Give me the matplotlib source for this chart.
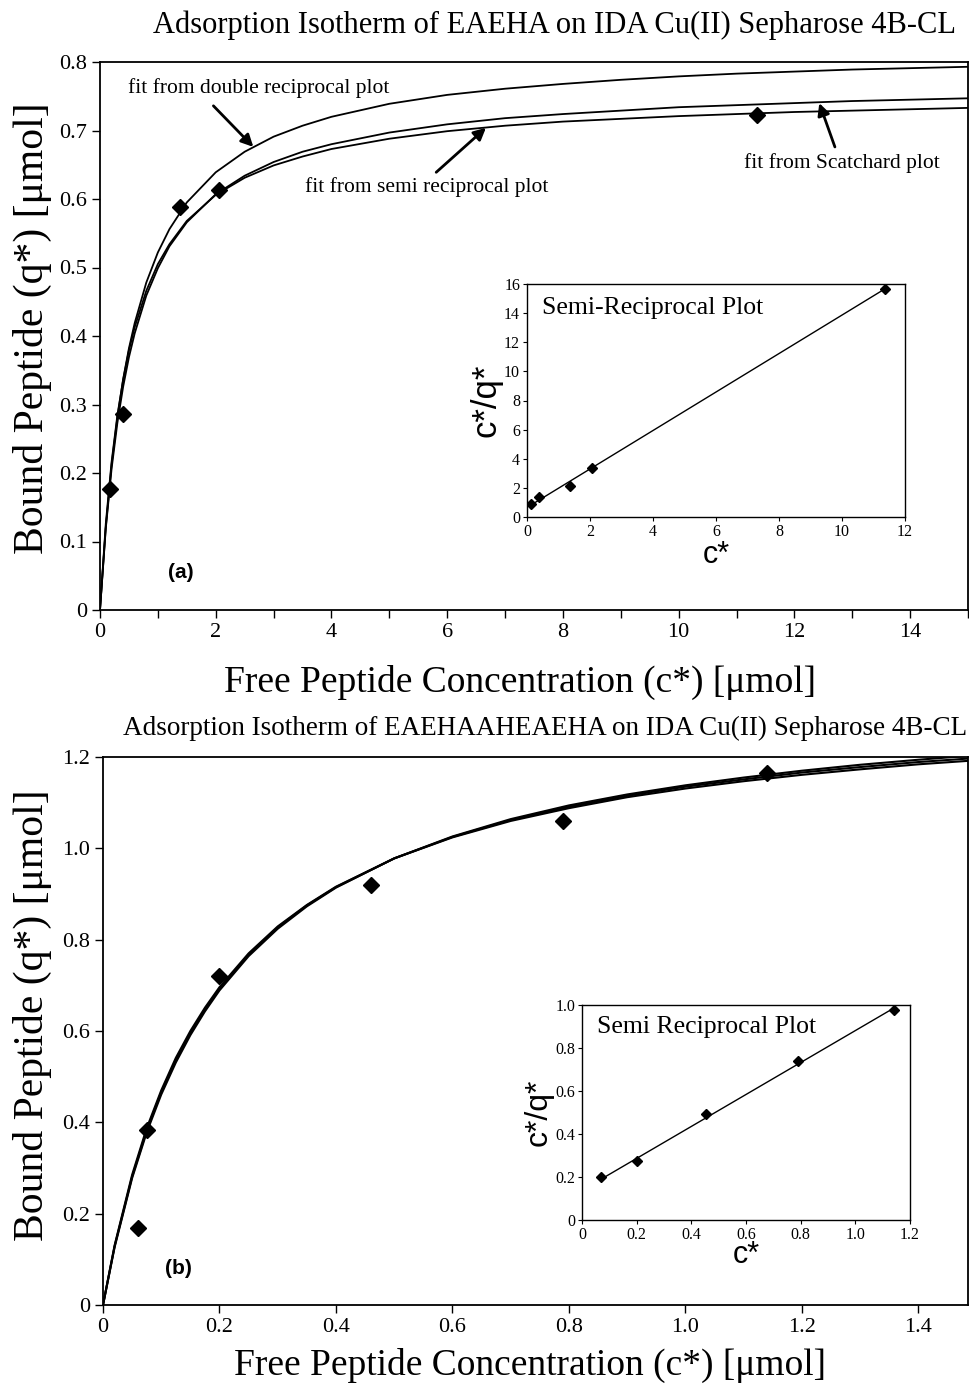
import matplotlib
matplotlib.use('Agg')
import matplotlib.pyplot as plt
from matplotlib.ticker import FixedLocator

plt.rcParams['font.family'] = 'Liberation Serif'

# ---- panel (a): EAEHA ----
a_c = [0.17, 0.40, 1.38, 2.06, 11.35]
a_q = [0.177, 0.286, 0.588, 0.613, 0.723]

# fitted isotherms
a_fit_c = [0, 0.1, 0.2, 0.3, 0.4, 0.5, 0.6, 0.8, 1.0, 1.2, 1.5, 2, 2.5, 3, 3.5, 4,
           5, 6, 7, 8, 9, 10, 11, 12, 13, 14, 15]
a_fit_double = [0, 0.121, 0.212, 0.281, 0.337, 0.382, 0.419, 0.478, 0.522, 0.556, 0.595,
                0.639, 0.669, 0.691, 0.707, 0.720, 0.739, 0.752, 0.761, 0.768, 0.774,
                0.779, 0.783, 0.786, 0.789, 0.791, 0.793]
a_fit_scatchard = [0, 0.119, 0.206, 0.273, 0.326, 0.369, 0.404, 0.459, 0.499, 0.531, 0.566,
                   0.607, 0.634, 0.654, 0.669, 0.680, 0.697, 0.709, 0.718, 0.724, 0.729,
                   0.734, 0.737, 0.740, 0.743, 0.745, 0.747]
a_fit_semi = [0, 0.126, 0.216, 0.284, 0.336, 0.379, 0.413, 0.466, 0.505, 0.534, 0.568,
              0.606, 0.631, 0.649, 0.662, 0.673, 0.688, 0.699, 0.707, 0.713, 0.717,
              0.721, 0.724, 0.727, 0.729, 0.731, 0.733]

a_inset_c = [0.14, 0.38, 1.35, 2.05, 11.35]
a_inset_cq = [0.89, 1.35, 2.10, 3.34, 15.66]
a_inset_line_c = [0.14, 11.35]
a_inset_line_cq = [0.84, 15.65]

# ---- panel (b): EAEHAAHEAEHA ----
b_c = [0.060, 0.076, 0.20, 0.46, 0.79, 1.14]
b_q = [0.168, 0.383, 0.72, 0.92, 1.06, 1.165]

b_fit_c = [0, 0.02, 0.05, 0.075, 0.1, 0.125, 0.15, 0.175, 0.2, 0.25, 0.3, 0.35, 0.4, 0.5,
           0.6, 0.7, 0.8, 0.9, 1.0, 1.1, 1.2, 1.3, 1.4, 1.49]
b_fit_1 = [0, 0.129, 0.281, 0.382, 0.466, 0.536, 0.596, 0.647, 0.692, 0.767, 0.827, 0.875,
           0.915, 0.978, 1.025, 1.062, 1.091, 1.115, 1.135, 1.151, 1.166, 1.178, 1.189, 1.197]
b_fit_2 = [0, 0.131, 0.285, 0.387, 0.470, 0.541, 0.600, 0.651, 0.696, 0.770, 0.829, 0.876,
           0.916, 0.978, 1.024, 1.060, 1.088, 1.112, 1.131, 1.147, 1.161, 1.173, 1.184, 1.192]
b_fit_3 = [0, 0.127, 0.278, 0.378, 0.461, 0.531, 0.591, 0.643, 0.689, 0.764, 0.824, 0.873,
           0.914, 0.978, 1.026, 1.064, 1.094, 1.118, 1.138, 1.155, 1.170, 1.183, 1.194, 1.203]

b_inset_c = [0.07, 0.20, 0.455, 0.79, 1.14]
b_inset_cq = [0.20, 0.275, 0.495, 0.74, 0.975]
b_inset_line_c = [0.07, 1.14]
b_inset_line_cq = [0.19, 0.985]

W, H = 970, 1392
fig = plt.figure(figsize=(W / 100, H / 100), dpi=100)


def box(left, top, right, bottom):
    """ pixel box -> figure fraction rect """
    return [left / W, 1 - bottom / H, (right - left) / W, (bottom - top) / H]


def style_main(ax):
    ax.tick_params(direction='out', length=6, width=1, labelsize=16, top=False, right=False)
    for s in ax.spines.values():
        s.set_linewidth(1.3)


def style_inset(ax):
    ax.tick_params(direction='out', length=3, width=0.8, labelsize=11.5, pad=2)
    for s in ax.spines.values():
        s.set_linewidth(1.0)


# ================= panel (a) =================
ax1 = fig.add_axes(box(100, 62, 968, 610))
ax1.plot(a_fit_c, a_fit_double, color='black', lw=1.3)
ax1.plot(a_fit_c, a_fit_scatchard, color='black', lw=1.3)
ax1.plot(a_fit_c, a_fit_semi, color='black', lw=1.3)
ax1.plot(a_c, a_q, 'D', color='black', markersize=8, linestyle='none')
ax1.set_xlim(0, 15)
ax1.set_ylim(0, 0.8)
ax1.xaxis.set_major_locator(FixedLocator(list(range(0, 16))))
ax1.set_xticklabels(['' if i % 2 else str(i) for i in range(0, 16)])
ax1.set_yticks([0, 0.1, 0.2, 0.3, 0.4, 0.5, 0.6, 0.7, 0.8])
ax1.set_yticklabels(['0', '0.1', '0.2', '0.3', '0.4', '0.5', '0.6', '0.7', '0.8'])
style_main(ax1)
ax1.set_xlabel('Free Peptide Concentration (c*) [\u03bcmol]', fontsize=27)
ax1.xaxis.set_label_coords(0.484, -0.10)
ax1.set_ylabel('Bound Peptide (q*) [\u03bcmol]', fontsize=30)
ax1.yaxis.set_label_coords(-0.055, 0.515)
ax1.text(1.39, 0.055, '(a)', fontsize=15, fontweight='bold', family='Liberation Sans',
         ha='center', va='center')

arrow = dict(arrowstyle='-|>', lw=2, color='black', mutation_scale=18, shrinkA=0, shrinkB=0)
ax1.text(2.75, 0.762, 'fit from double reciprocal plot', fontsize=15.5, ha='center', va='center')
ax1.annotate('', xy=(2.65, 0.676), xytext=(1.96, 0.736), arrowprops=arrow)
ax1.text(3.55, 0.6175, 'fit from semi reciprocal plot', fontsize=15.5, ha='left', va='center')
ax1.annotate('', xy=(6.67, 0.704), xytext=(5.81, 0.639), arrowprops=arrow)
ax1.text(11.13, 0.6526, 'fit from Scatchard plot', fontsize=15.5, ha='left', va='center')
ax1.annotate('', xy=(12.43, 0.740), xytext=(12.70, 0.676), arrowprops=arrow)

fig.text(555 / W, 1 - 25 / H, 'Adsorption Isotherm of EAEHA on IDA Cu(II) Sepharose 4B-CL',
         fontsize=22, ha='center', va='center')

# inset (a)
ia = fig.add_axes(box(527, 284, 905, 517))
ia.plot(a_inset_line_c, a_inset_line_cq, color='black', lw=1.0)
ia.plot(a_inset_c, a_inset_cq, 'D', color='black', markersize=5, linestyle='none')
ia.set_xlim(0, 12)
ia.set_ylim(0, 16)
ia.set_xticks(range(0, 13, 2))
ia.set_yticks(range(0, 17, 2))
style_inset(ia)
ia.text(0.48, 14.35, 'Semi-Reciprocal Plot', fontsize=18.5, ha='left', va='center')
ia.set_xlabel('c*', fontsize=22, family='Liberation Sans', labelpad=0)
ia.set_ylabel('c*/q*', fontsize=25, family='Liberation Sans', labelpad=1)

# ================= panel (b) =================
ax2 = fig.add_axes(box(103, 757, 968, 1305))
ax2.plot(b_fit_c, b_fit_1, color='black', lw=1.5)
ax2.plot(b_fit_c, b_fit_2, color='black', lw=1.5)
ax2.plot(b_fit_c, b_fit_3, color='black', lw=1.5)
ax2.plot(b_c, b_q, 'D', color='black', markersize=8, linestyle='none')
ax2.set_xlim(0, 1.485)
ax2.set_ylim(0, 1.2)
ax2.set_xticks([0, 0.2, 0.4, 0.6, 0.8, 1.0, 1.2, 1.4])
ax2.set_xticklabels(['0', '0.2', '0.4', '0.6', '0.8', '1.0', '1.2', '1.4'])
ax2.set_yticks([0, 0.2, 0.4, 0.6, 0.8, 1.0, 1.2])
ax2.set_yticklabels(['0', '0.2', '0.4', '0.6', '0.8', '1.0', '1.2'])
style_main(ax2)
ax2.set_xlabel('Free Peptide Concentration (c*) [\u03bcmol]', fontsize=27)
ax2.xaxis.set_label_coords(0.494, -0.079)
ax2.set_ylabel('Bound Peptide (q*) [\u03bcmol]', fontsize=30)
ax2.yaxis.set_label_coords(-0.059, 0.529)
ax2.text(0.129, 0.081, '(b)', fontsize=15, fontweight='bold', family='Liberation Sans',
         ha='center', va='center')

fig.text(545 / W, 1 - 728 / H,
         'Adsorption Isotherm of EAEHAAHEAEHA on IDA Cu(II) Sepharose 4B-CL',
         fontsize=19.5, ha='center', va='center')

# inset (b)
ib = fig.add_axes(box(582, 1005, 910, 1220))
ib.plot(b_inset_line_c, b_inset_line_cq, color='black', lw=1.0)
ib.plot(b_inset_c, b_inset_cq, 'D', color='black', markersize=5, linestyle='none')
ib.set_xlim(0, 1.2)
ib.set_ylim(0, 1.0)
ib.set_xticks([0, 0.2, 0.4, 0.6, 0.8, 1.0, 1.2])
ib.set_xticklabels(['0', '0.2', '0.4', '0.6', '0.8', '1.0', '1.2'])
ib.set_yticks([0, 0.2, 0.4, 0.6, 0.8, 1.0])
ib.set_yticklabels(['0', '0.2', '0.4', '0.6', '0.8', '1.0'])
style_inset(ib)
ib.text(0.055, 0.898, 'Semi Reciprocal Plot', fontsize=18.5, ha='left', va='center')
ib.set_xlabel('c*', fontsize=22, family='Liberation Sans', labelpad=-2)
ib.set_ylabel('c*/q*', fontsize=23, family='Liberation Sans', labelpad=1)

fig.savefig('out.png', dpi=100)
